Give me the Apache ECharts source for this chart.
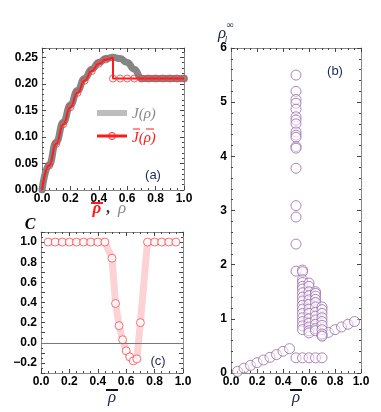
<!DOCTYPE html>
<html><head><meta charset="utf-8">
<script src="https://cdn.jsdelivr.net/npm/echarts@6/dist/echarts.min.js"></script>
<style>html,body{margin:0;padding:0;background:#fff}#c{width:381px;height:412px}</style>
</head><body><div id="c"></div>
<script>
// ---------- panel (a) ----------
const rhoGray = [0,0.05,0.1,0.15,0.2,0.25,0.3,0.35,0.4,0.45,0.5,0.55,0.6,0.65,0.7,0.75,0.8,0.85,0.9,0.95,1.0];
const jGray   = [0,0.0475,0.09,0.1275,0.16,0.1875,0.21,0.2275,0.24,0.2475,0.25,0.2475,0.24,0.2275,0.21,0.21,0.21,0.21,0.21,0.21,0.21];
const rhoRedUp = [0,0.05,0.1,0.15,0.2,0.25,0.3,0.35,0.4,0.45,0.5];
const jRedUp   = [0,0.046,0.087,0.124,0.156,0.183,0.206,0.224,0.238,0.246,0.25];
const rhoRedDn = [0.5,0.5,1.0];
const jRedDn   = [0.25,0.21,0.21];
const circAX  = [0.05,0.1,0.15,0.2,0.25,0.3,0.35,0.4,0.45,0.5,0.55,0.6,0.65,0.7,0.75,0.8,0.85,0.9,0.95,1.0];
const circAY  = [0.046,0.087,0.124,0.156,0.183,0.206,0.224,0.238,0.246,0.21,0.21,0.21,0.21,0.21,0.21,0.21,0.21,0.21,0.21,0.21];
// ---------- panel (b) ----------
const bLowX  = [0.05,0.1,0.15,0.2,0.25,0.3,0.35,0.4,0.45];
const bLowY  = [0.03,0.09,0.14,0.19,0.24,0.29,0.34,0.40,0.45];
const bFlatX = [0.5,0.55,0.6,0.65,0.7];
const bFlatY = [0.28,0.28,0.28,0.28,0.28];
const bHighX = [0.7,0.75,0.8,0.85,0.9,0.95];
const bHighY = [0.70,0.75,0.80,0.85,0.90,0.95];
const col050 = [5.5,5.2,5.05,4.98,4.87,4.73,4.67,4.6,4.45,4.39,4.35,4.18,4.15,3.78,3.09,2.88,2.38,1.88];
const col055 = [1.9,1.87,1.72,1.67,1.6,1.55,1.48,1.4,1.33,1.25,1.18,1.1,1.02,0.95,0.87,0.8];
const col060 = [1.66,1.6,1.5,1.43,1.35,1.27,1.18,1.1,1.0,0.92,0.85,0.78,0.74];
const col065 = [1.5,1.47,1.42,1.36,1.3,1.22,1.12,1.05,0.98,0.9,0.82,0.78];
const col070 = [1.22,1.17,1.1,1.02,0.95,0.88,0.8,0.72,0.68];
// ---------- panel (c) ----------
const cX = [0.05,0.1,0.15,0.2,0.25,0.3,0.35,0.4,0.45,0.5,0.525,0.55,0.575,0.6,0.625,0.65,0.675,0.7,0.75,0.8,0.85,0.9,0.95];
const cY = [1,1,1,1,1,1,1,1,1,0.84,0.39,0.17,0.03,-0.08,-0.14,-0.18,-0.16,0.2,1,1,1,1,1];

const zip = (xs, ys) => xs.map((x, i) => [x, ys[i]]);
const col = (x, ys) => ys.map(y => [x, y]);

const bData = [].concat(
  zip(bLowX, bLowY), zip(bFlatX, bFlatY), zip(bHighX, bHighY),
  col(0.5, col050), col(0.55, col055), col(0.6, col060), col(0.65, col065), col(0.7, col070)
);

const LAB = {fontFamily:'Liberation Sans', fontWeight:'bold', fontSize:12, color:'#000'};
const AXC = '#888';
const TKC = '#444';

function xAx(grid, pos, min, max, interval, minorSplit, labels) {
  return {
    type:'value', gridIndex:grid, position:pos, min, max, interval,
    axisLine:{show:true, onZero:false, lineStyle:{color:AXC, width:1}},
    axisTick:{show:true, inside:true, length:4, lineStyle:{color:TKC}},
    minorTick:{show:true, splitNumber:minorSplit, length:2, lineStyle:{color:TKC}},
    splitLine:{show:false}, minorSplitLine:{show:false},
    axisLabel: labels ? Object.assign({show:true, margin:3, formatter:v=>v.toFixed(1)}, LAB) : {show:false}
  };
}
function yAx(grid, pos, min, max, interval, minorSplit, fmt) {
  return {
    type:'value', gridIndex:grid, position:pos, min, max, interval,
    axisLine:{show:true, onZero:false, lineStyle:{color:AXC, width:1}},
    axisTick:{show:true, inside:true, length:4, lineStyle:{color:TKC}},
    minorTick:{show:true, splitNumber:minorSplit, length:2, lineStyle:{color:TKC}},
    splitLine:{show:false}, minorSplitLine:{show:false},
    axisLabel: fmt ? Object.assign({show:true, margin:4, formatter:fmt}, LAB) : {show:false}
  };
}
const fmtA = v => Math.abs(v*20 - Math.round(v*20)) < 1e-6 ? v.toFixed(2) : '';
const fmtB = v => Math.abs(v - Math.round(v)) < 1e-6 ? String(Math.round(v)) : '';
const fmtC = v => {
  const k = Math.round(v*10);
  if (Math.abs(v*10 - k) > 1e-6 || k % 2 !== 0 || k < -2 || k > 10) return '';
  return (k < 0 ? '\u2212' : '') + Math.abs(v).toFixed(1);
};

const chart = echarts.init(document.getElementById('c'), null, {renderer:'canvas'});
const NAVY = '#1c2650';
const RED = '#ff1a1a';

const option = {
  animation:false,
  backgroundColor:'#fff',
  grid:[
    {left:42, top:48, width:142, height:142},
    {left:231, top:48, width:130, height:325},
    {left:41, top:232, width:142, height:141}
  ],
  xAxis:[
    xAx(0,'bottom',0,1,0.2,4,true), xAx(0,'top',0,1,0.2,4,false),
    xAx(1,'bottom',0,1,0.2,4,true), xAx(1,'top',0,1,0.2,4,false),
    xAx(2,'bottom',0,1,0.2,4,true), xAx(2,'top',0,1,0.2,4,false)
  ],
  yAxis:[
    yAx(0,'left',0,0.2675,0.05,5,fmtA), yAx(0,'right',0,0.2675,0.05,5,null),
    yAx(1,'left',0,6,1,5,fmtB), yAx(1,'right',0,6,1,5,null),
    yAx(2,'left',-0.3,1.1,0.1,2,fmtC), yAx(2,'right',-0.3,1.1,0.1,2,null)
  ],
  series:[
    {type:'line', xAxisIndex:0, yAxisIndex:0, data:zip(rhoGray,jGray), smooth:0.5, smoothMonotone:'x',
     showSymbol:false, lineStyle:{color:'#858585', width:7, cap:'round', join:'round'}, z:2},
    {type:'line', xAxisIndex:0, yAxisIndex:0, data:zip(rhoRedUp,jRedUp), smooth:0.5, smoothMonotone:'x', showSymbol:false,
     lineStyle:{color:RED, width:2}, z:3},
    {type:'line', xAxisIndex:0, yAxisIndex:0, data:zip(rhoRedDn,jRedDn), showSymbol:false,
     lineStyle:{color:RED, width:2}, z:3},
    {type:'scatter', xAxisIndex:0, yAxisIndex:0, data:zip(circAX,circAY), symbol:'circle', symbolSize:7,
     itemStyle:{color:'rgba(0,0,0,0)', borderColor:'#ff3535', borderWidth:1}, z:4},
    {type:'scatter', xAxisIndex:2, yAxisIndex:2, data:bData, symbol:'circle', symbolSize:10,
     itemStyle:{color:'rgba(255,255,255,0.6)', borderColor:'#9a68ad', borderWidth:1}, z:3},
    {type:'line', xAxisIndex:4, yAxisIndex:4, data:zip(cX,cY), showSymbol:false,
     lineStyle:{color:'#fcd2d5', width:7}, z:2,
     markLine:{silent:true, symbol:'none', label:{show:false}, lineStyle:{color:'#777', width:1, type:'solid'},
       data:[{yAxis:0}]}},
    {type:'scatter', xAxisIndex:4, yAxisIndex:4, data:zip(cX,cY), symbol:'circle', symbolSize:8,
     itemStyle:{color:'#fff', borderColor:'#f05058', borderWidth:1}, z:4}
  ],
  graphic:[
    // legend (a)
    {type:'line', shape:{x1:97,y1:113,x2:127,y2:113}, style:{stroke:'#bdbdbd', lineWidth:6}},
    {type:'text', x:132, y:114, style:{text:'J(\u03c1)', font:'italic 15px "Liberation Serif"', fill:'#8a8a8a', align:'left', verticalAlign:'middle'}},
    {type:'line', shape:{x1:97,y1:136,x2:127,y2:136}, style:{stroke:RED, lineWidth:3}},
    {type:'circle', shape:{cx:112, cy:136, r:3.5}, style:{stroke:RED, fill:'none', lineWidth:1}},
    {type:'text', x:132, y:138, style:{text:'J(\u03c1)', font:'italic 15px "Liberation Serif"', fill:RED, align:'left', verticalAlign:'middle'}},
    {type:'line', shape:{x1:133,y1:129,x2:140,y2:129}, style:{stroke:RED, lineWidth:1}},
    {type:'line', shape:{x1:146,y1:129,x2:154,y2:129}, style:{stroke:RED, lineWidth:1}},
    // panel labels
    {type:'text', x:153, y:175, style:{text:'(a)', font:'13px "Liberation Sans"', fill:NAVY, align:'center', verticalAlign:'middle'}},
    {type:'text', x:335, y:71, style:{text:'(b)', font:'13px "Liberation Sans"', fill:NAVY, align:'center', verticalAlign:'middle'}},
    {type:'text', x:158, y:361, style:{text:'(c)', font:'13px "Liberation Sans"', fill:NAVY, align:'center', verticalAlign:'middle'}},
    // (a) x title
    {type:'text', x:97, y:209, style:{text:'\u03c1', font:'italic bold 17px "Liberation Serif"', fill:RED, align:'center', verticalAlign:'middle'}},
    {type:'line', shape:{x1:91,y1:203,x2:103,y2:203}, style:{stroke:RED, lineWidth:2}},
    {type:'text', x:108, y:209, style:{text:',', font:'bold 16px "Liberation Serif"', fill:'#333', align:'center', verticalAlign:'middle'}},
    {type:'text', x:122, y:209, style:{text:'\u03c1', font:'italic 17px "Liberation Serif"', fill:'#888', align:'center', verticalAlign:'middle'}},
    // (c) y title
    {type:'text', x:30, y:225, style:{text:'C', font:'italic bold 16px "Liberation Serif"', fill:'#000', align:'center', verticalAlign:'middle'}},
    // (c) x title
    {type:'text', x:112, y:398, style:{text:'\u03c1', font:'italic 17px "Liberation Serif"', fill:NAVY, align:'center', verticalAlign:'middle'}},
    {type:'line', shape:{x1:106,y1:390,x2:118,y2:390}, style:{stroke:'#111', lineWidth:2}},
    // (b) x title
    {type:'text', x:296, y:398, style:{text:'\u03c1', font:'italic 17px "Liberation Serif"', fill:NAVY, align:'center', verticalAlign:'middle'}},
    {type:'line', shape:{x1:290,y1:390,x2:302,y2:390}, style:{stroke:'#111', lineWidth:2}},
    // (b) y title rho_l^inf
    {type:'text', x:222, y:34, style:{text:'\u03c1', font:'italic 17px "Liberation Serif"', fill:NAVY, align:'center', verticalAlign:'middle'}},
    {type:'text', x:226, y:40, style:{text:'l', font:'italic 9px "Liberation Serif"', fill:NAVY, align:'center', verticalAlign:'middle'}},
    {type:'text', x:230, y:25, style:{text:'\u221e', font:'10px "Liberation Serif"', fill:NAVY, align:'center', verticalAlign:'middle'}}
  ]
};
chart.setOption(option);
</script>
</body></html>
